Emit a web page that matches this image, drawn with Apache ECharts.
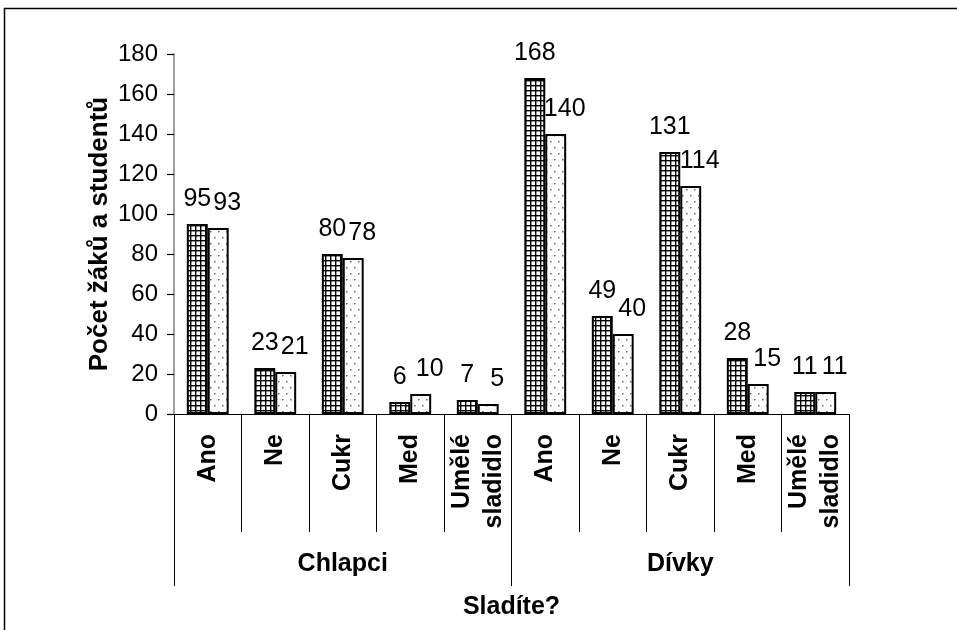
<!DOCTYPE html>
<html>
<head>
<meta charset="utf-8">
<script src="https://cdn.jsdelivr.net/npm/echarts@6/dist/echarts.min.js"></script>
<style>
  html, body { margin: 0; padding: 0; background: #fff; }
  #chart { width: 957px; height: 630px; }
</style>
</head>
<body>
<div id="chart"></div>
<script>
"use strict";

// Categories: answers, grouped by boys / girls.
var answers = ['Ano', 'Ne', 'Cukr', 'Med', 'Umělé\nsladidlo'];
var groups = ['Chlapci', 'Dívky'];
var categories = answers.concat(answers);

// Values (first and second bar of each pair).
var firstBars = [95, 23, 80, 6, 7, 168, 49, 131, 28, 11];
var secondBars = [93, 21, 78, 10, 5, 140, 40, 114, 15, 11];

var yTicks = { min: 0, max: 180, interval: 20 };

var FONT = '"Liberation Sans", Arial, sans-serif';

// Checkered hatch for the first series.
function gridPattern() {
  var c = document.createElement('canvas');
  c.width = 5;
  c.height = 5;
  var ctx = c.getContext('2d');
  ctx.fillStyle = '#fff';
  ctx.fillRect(0, 0, 5, 5);
  ctx.fillStyle = '#000';
  ctx.fillRect(0, 0, 5, 1.4);
  ctx.fillRect(0, 0, 1.4, 5);
  return c;
}

// Sparse grey dots for the second series.
function dotPattern() {
  var c = document.createElement('canvas');
  c.width = 8;
  c.height = 12;
  var ctx = c.getContext('2d');
  ctx.fillStyle = '#fff';
  ctx.fillRect(0, 0, 8, 12);
  ctx.fillStyle = '#666';
  ctx.fillRect(2, 3, 1.5, 1.5);
  ctx.fillRect(6, 9, 1.5, 1.5);
  return c;
}

var chart = echarts.init(document.getElementById('chart'));

chart.setOption({
  backgroundColor: '#fff',
  animation: false,
  textStyle: { fontFamily: FONT },
  grid: { left: 174, right: 108, top: 54, bottom: 216 },
  xAxis: [
    {
      type: 'category',
      data: categories,
      axisLine: { lineStyle: { color: '#000', width: 1.2 } },
      axisTick: { show: true, interval: 0, alignWithLabel: false, length: 118, lineStyle: { color: '#000', width: 1 } },
      axisLabel: {
        interval: 0,
        rotate: 90,
        margin: 20,
        fontSize: 25,
        fontWeight: 'bold',
        color: '#000',
        lineHeight: 32,
        fontFamily: FONT
      }
    },
    {
      type: 'category',
      position: 'bottom',
      data: groups,
      axisLine: { show: false },
      axisTick: { show: true, interval: 0, alignWithLabel: false, length: 172, lineStyle: { color: '#000', width: 1 } },
      axisLabel: {
        interval: 0,
        margin: 138,
        fontSize: 25,
        fontWeight: 'bold',
        color: '#000',
        fontFamily: FONT
      },
      name: 'Sladíte?',
      nameLocation: 'middle',
      nameGap: 181,
      nameMoveOverlap: false,
      nameTextStyle: { fontSize: 25, fontWeight: 'bold', color: '#000', fontFamily: FONT }
    }
  ],
  yAxis: {
    type: 'value',
    min: yTicks.min,
    max: yTicks.max,
    interval: yTicks.interval,
    axisLine: { show: true, lineStyle: { color: '#808080', width: 1.5 } },
    axisTick: { show: true, inside: false, length: 7, lineStyle: { color: '#000', width: 1.2 } },
    splitLine: { show: false },
    axisLabel: { fontSize: 24, color: '#000', margin: 16, fontFamily: FONT },
    name: 'Počet žáků a studentů',
    nameLocation: 'middle',
    nameGap: 61,
    nameMoveOverlap: false,
    nameTextStyle: { fontSize: 26, fontWeight: 'bold', color: '#000', fontFamily: FONT }
  },
  series: [
    {
      name: 'A',
      type: 'bar',
      data: firstBars,
      barGap: '0%',
      barCategoryGap: '38%',
      itemStyle: {
        color: { image: gridPattern(), repeat: 'repeat' },
        borderColor: '#000',
        borderWidth: 2
      },
      label: {
        show: true,
        position: 'top',
        distance: 12,
        fontSize: 25,
        color: '#000',
        fontFamily: FONT
      }
    },
    {
      name: 'B',
      type: 'bar',
      data: secondBars,
      itemStyle: {
        color: { image: dotPattern(), repeat: 'repeat' },
        borderColor: '#000',
        borderWidth: 2
      },
      label: {
        show: true,
        position: 'top',
        distance: 12,
        offset: [9, 0],
        fontSize: 25,
        color: '#000',
        fontFamily: FONT
      }
    }
  ],
  graphic: [
    {
      type: 'rect',
      shape: { x: 4.5, y: 8.5, width: 1000, height: 700 },
      style: { fill: null, stroke: '#000', lineWidth: 1.5 },
      silent: true
    }
  ]
});
</script>
</body>
</html>
